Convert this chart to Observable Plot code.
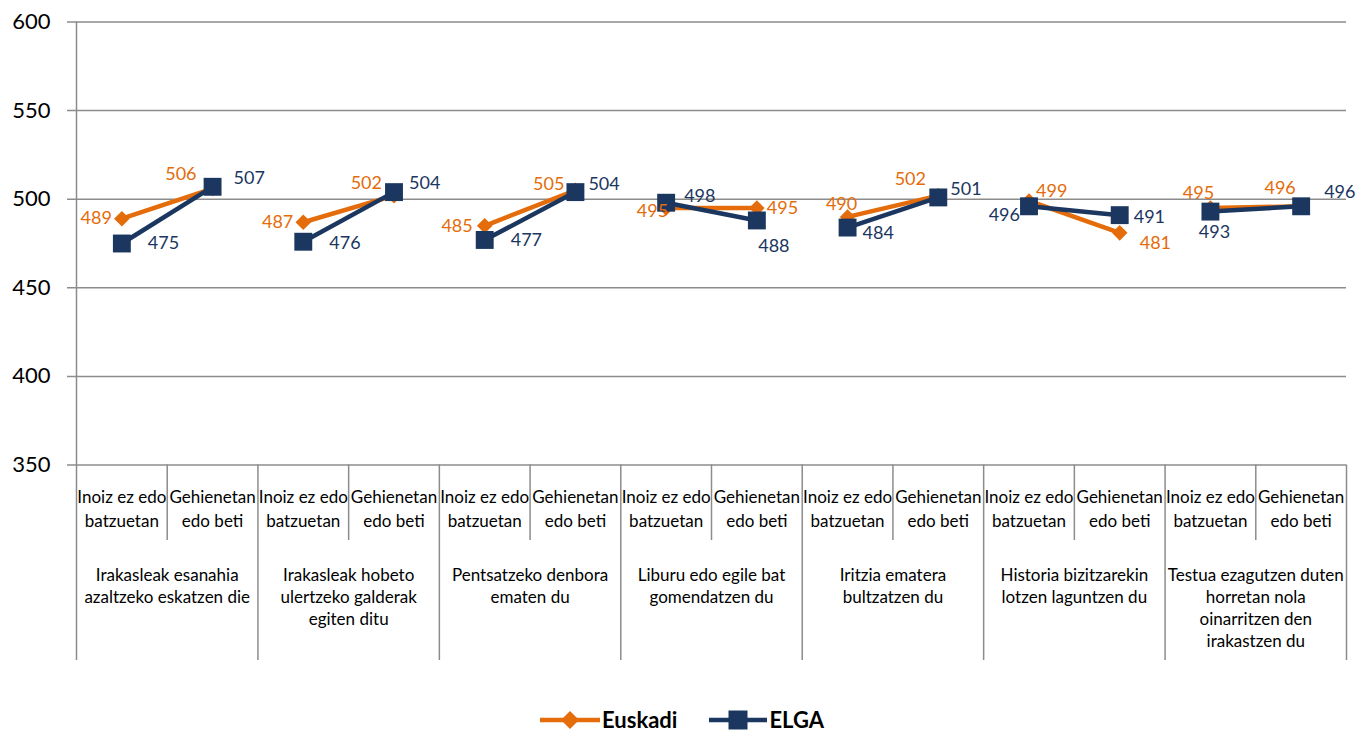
<!DOCTYPE html>
<html><head><meta charset="utf-8">
<script src="https://cdn.jsdelivr.net/npm/d3@7"></script>
<script src="https://cdn.jsdelivr.net/npm/@observablehq/plot@0.6"></script>
<style>
body{margin:0;background:#fff;font-family:Lato,sans-serif;}
#chart svg{display:block;}
#legend{display:flex;justify-content:center;align-items:center;height:42px;font-weight:bold;font-size:22px;line-height:24px;color:#000;padding-left:4px;}
#legend .item{display:flex;align-items:center;margin:0 16px;}
#legend svg{display:block;margin-right:2px;}
</style></head><body>
<div id="chart"></div>
<div id="legend"></div>
<script>
const groups = [
  "Irakasleak esanahia\nazaltzeko eskatzen die",
  "Irakasleak hobeto\nulertzeko galderak\negiten ditu",
  "Pentsatzeko denbora\nematen du",
  "Liburu edo egile bat\ngomendatzen du",
  "Iritzia ematera\nbultzatzen du",
  "Historia bizitzarekin\nlotzen laguntzen du",
  "Testua ezagutzen duten\nhorretan nola\noinarritzen den\nirakastzen du"
];
const subcats = ["Inoiz ez edo\nbatzuetan", "Gehienetan\nedo beti"];
const seriesNames = ["Euskadi", "ELGA"];
const euskadi = [489, 506, 487, 502, 485, 505, 495, 495, 490, 502, 499, 481, 495, 496];
const elga    = [475, 507, 476, 504, 477, 504, 498, 488, 484, 501, 496, 491, 493, 496];
const yTicks = [350, 400, 450, 500, 550, 600];

// label placement styles [textAnchor, dx, dy]
const euskadiLabelStyle = [
  ["end",-10,0],["end",-16,-14],["end",-10,0],["end",-12,-12],["end",-12,0],["end",-11,-6],
  ["end",2,3],["start",10,0],["middle",-6,-13],["middle",-28,-16],["start",7,-10],["start",20,10],
  ["middle",-12,-15],["middle",-21,-18]
];
const elgaLabelStyle = [
  ["start",26,0],["start",21,-9],["start",26,2],["start",15,-9],["start",26,0],["start",13,-8],
  ["start",18,-7],["middle",17,26],["start",15,6],["start",12,-8],["end",-9,9],["start",14,2],
  ["middle",4,21],["start",23,-14]
];

const orange = "#E46C0A";
const navy = "#1B365F";
const grid = "#8C8C8C";

const W = 1360, H = 699, mt = 21.5, mb = H - 464.5, ml = 76, mr = 1360 - 1346;
const frameH = H - mt - mb;

const rows = [];
groups.forEach((g, gi) => subcats.forEach((s, si) => {
  const i = gi * 2 + si;
  rows.push({i, g: gi, s, euskadi: euskadi[i], elga: elga[i]});
}));

const labelMarks = [];
rows.forEach((r, k) => {
  const [a1, dx1, dy1] = euskadiLabelStyle[k];
  labelMarks.push(Plot.text([r], {x: "i", y: "euskadi", text: d => String(d.euskadi), textAnchor: a1, dx: dx1, dy: dy1, fill: orange, fontSize: 18}));
});
rows.forEach((r, k) => {
  const [a2, dx2, dy2] = elgaLabelStyle[k];
  labelMarks.push(Plot.text([r], {x: "i", y: "elga", text: d => String(d.elga), textAnchor: a2, dx: dx2, dy: dy2, fill: navy, fontSize: 18}));
});

const chart = Plot.plot({
  width: W, height: H,
  marginTop: mt, marginBottom: mb, marginLeft: ml, marginRight: mr,
  style: {fontFamily: "Lato, sans-serif", background: "#fff", overflow: "visible"},
  x: {domain: [-0.5, groups.length * 2 - 0.5], axis: null},
  y: {domain: [350, 600], axis: null},
  marks: [
    Plot.ruleY(yTicks, {y: d => d, stroke: grid, strokeWidth: 1.5, insetLeft: -9}),
    Plot.text(yTicks, {y: d => d, text: d => String(d), frameAnchor: "left", textAnchor: "end", dx: -26, fontSize: 22, fill: "#000"}),
    Plot.ruleX([-0.5], {x: d => d, stroke: grid, strokeWidth: 1.5, insetBottom: -195.5}),
    Plot.ruleX(rows.filter(r => r.i % 2 === 0), {x: r => r.i + 0.5, stroke: grid, strokeWidth: 1.5, insetTop: frameH, insetBottom: -75.5}),
    Plot.ruleX(groups, {x: (d, gi) => gi * 2 + 1.5, stroke: grid, strokeWidth: 1.5, insetTop: frameH, insetBottom: -195.5}),
    Plot.text(rows, {x: "i", text: "s", frameAnchor: "bottom", lineAnchor: "top", dy: 21, fontSize: 17, lineHeight: 1.4, fill: "#000"}),
    Plot.text(groups, {x: (d, gi) => gi * 2 + 0.5, text: d => d, frameAnchor: "bottom", lineAnchor: "top", dy: 100, fontSize: 17, lineHeight: 1.3, fill: "#000"}),
    Plot.line(rows, {x: "i", y: "euskadi", z: "g", stroke: orange, strokeWidth: 4.5}),
    Plot.dot(rows, {x: "i", y: "euskadi", symbol: "diamond2", r: 7, fill: orange, stroke: null}),
    Plot.line(rows, {x: "i", y: "elga", z: "g", stroke: navy, strokeWidth: 4.5}),
    Plot.dot(rows, {x: "i", y: "elga", symbol: "square", r: 10.1, fill: navy, stroke: null}),
    ...labelMarks
  ]
});
document.getElementById("chart").appendChild(chart);

// legend
const legend = document.getElementById("legend");
const sw = [
  `<svg width="60" height="24"><line x1="0" y1="12" x2="60" y2="12" stroke="${orange}" stroke-width="4.5"/><path d="M30,3 L39,12 L30,21 L21,12 Z" fill="${orange}"/></svg>`,
  `<svg width="58" height="24"><line x1="0" y1="12" x2="58" y2="12" stroke="${navy}" stroke-width="4.5"/><rect x="19.5" y="2.5" width="19" height="19" fill="${navy}"/></svg>`
];
seriesNames.forEach((n, k) => {
  const d = document.createElement("div");
  d.className = "item";
  d.innerHTML = sw[k] + `<span>${n}</span>`;
  legend.appendChild(d);
});
</script>
</body></html>
